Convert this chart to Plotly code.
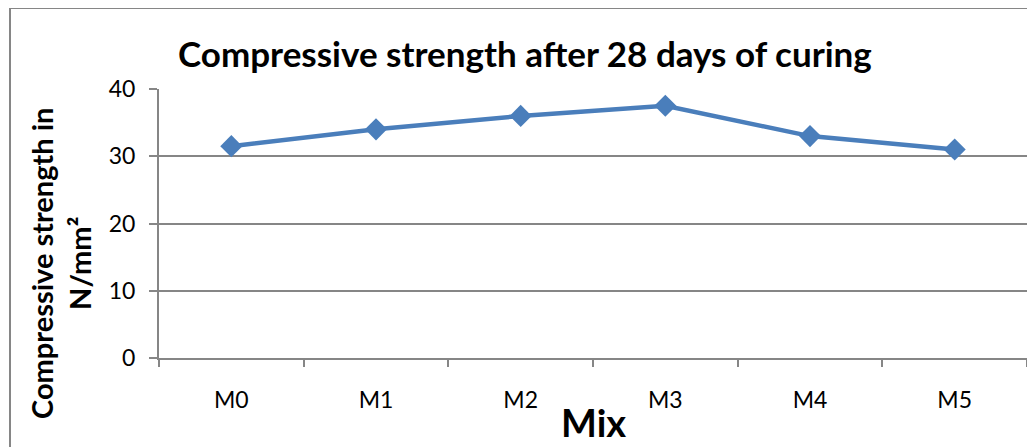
import plotly.graph_objects as go

mixes = ["M0", "M1", "M2", "M3", "M4", "M5"]
strength = [31.5, 34, 36, 37.5, 33, 31]
y_ticks = [0, 10, 20, 30, 40]

OFF = 8  # default page body margin
W, H = 1035 - OFF, 447 - OFF
# plot area in reference (page) coordinates
PL, PR, PT, PB = 159, 1027, 89, 358
L, T = PL - OFF, PT - OFF
R, B = (W + OFF) - PR, (H + OFF) - PB
pw, ph = PR - PL, PB - PT

def px(x):
    return (x - PL) / pw

def py(y):
    return (PB - y) / ph

FONT = "Lato, 'Open Sans', sans-serif"
GRAY = "#868686"

fig = go.Figure()
fig.add_trace(go.Scatter(
    x=mixes, y=strength, mode="lines+markers",
    line=dict(color="#4a7ebb", width=4.5),
    marker=dict(symbol="diamond", size=17, color="#4a7ebb"),
    showlegend=False,
))

fig.update_layout(
    width=W, height=H,
    margin=dict(l=L, r=R, t=T, b=B),
    paper_bgcolor="white", plot_bgcolor="white",
    font=dict(family=FONT, size=23, color="black"),
    xaxis=dict(
        type="category", range=[-0.5, 5.5],
        showline=True, linecolor=GRAY, linewidth=2,
        ticks="outside", tickson="boundaries", ticklen=7, tickcolor=GRAY, tickwidth=2,
        showgrid=False, ticklabelstandoff=20,
        tickfont=dict(size=23, family=FONT),
    ),
    yaxis=dict(
        range=[0, 40], tickvals=y_ticks,
        showline=True, linecolor=GRAY, linewidth=2,
        ticks="outside", ticklen=8, tickcolor=GRAY, tickwidth=2,
        showgrid=True, gridcolor=GRAY, gridwidth=2,
        zeroline=False, ticklabelstandoff=9,
        tickfont=dict(size=23, family=FONT),
    ),
    shapes=[dict(
        type="rect", xref="paper", yref="paper",
        x0=px(10), x1=px(1100), y0=py(600), y1=py(8),
        line=dict(color=GRAY, width=2), fillcolor="rgba(0,0,0,0)", layer="below",
    )],
    annotations=[
        dict(text="<b>Compressive strength after 28 days of curing</b>",
             xref="paper", yref="paper", x=px(525), y=py(53),
             showarrow=False, font=dict(size=35, family=FONT), xanchor="center", yanchor="middle"),
        dict(text="<b>Compressive strength in<br>N/mm²</b>",
             xref="paper", yref="paper", x=px(60), y=py(264), textangle=-90,
             showarrow=False, font=dict(size=29, family=FONT), xanchor="center", yanchor="middle"),
        dict(text="<b>Mix</b>",
             xref="paper", yref="paper", x=px(593), y=py(422),
             showarrow=False, font=dict(size=38, family=FONT), xanchor="center", yanchor="middle"),
    ],
)

fig.write_html("out.html")
